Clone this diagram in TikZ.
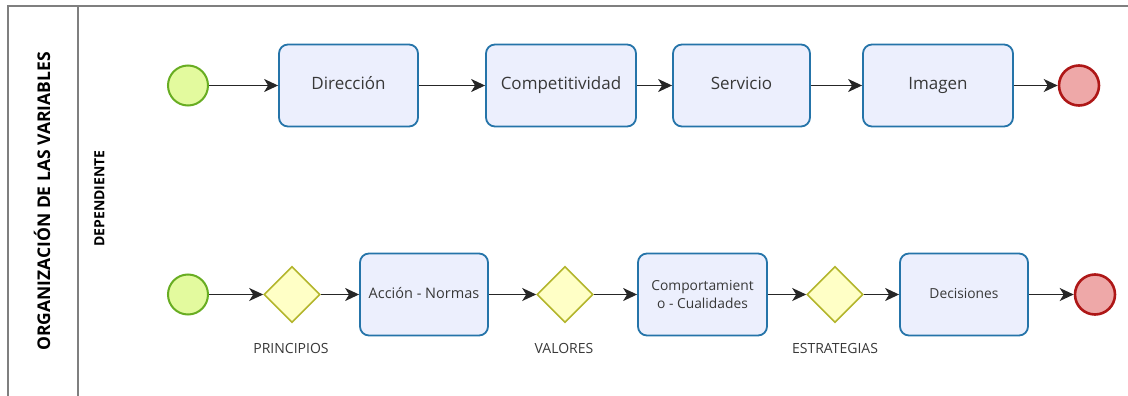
\documentclass[tikz,border=0pt]{standalone}
\usepackage{fontspec}
\setmainfont{Open Sans}
\usetikzlibrary{arrows.meta,shapes.geometric}
\definecolor{framegray}{HTML}{7F7F7F}
\definecolor{taskfill}{HTML}{ECEFFD}
\definecolor{taskline}{HTML}{2574A9}
\definecolor{startfill}{HTML}{E3FA9E}
\definecolor{startline}{HTML}{68AD22}
\definecolor{endfill}{HTML}{EEA8A8}
\definecolor{endline}{HTML}{AE1717}
\definecolor{gatefill}{HTML}{FFFFC6}
\definecolor{gateline}{HTML}{B3B52C}
\definecolor{txt}{HTML}{383838}
\tikzset{
  frameline/.style={draw=framegray, line width=1.6pt},
  task/.style={rectangle, rounded corners=9pt, draw=taskline, fill=taskfill, line width=1.8pt,
    minimum height=82pt, text=txt, inner sep=2pt, align=center},
  oneline/.style={text height=0.72em, text depth=0pt},
  startev/.style={circle, draw=startline, fill=startfill, line width=2pt, minimum size=40pt, inner sep=0pt},
  endev/.style={circle, draw=endline, fill=endfill, line width=2.6pt, minimum size=40pt, inner sep=0pt},
  gate/.style={diamond, aspect=1, draw=gateline, fill=gatefill, line width=1.6pt, minimum width=56pt, minimum height=56pt, inner sep=0pt},
  gatelabel/.style={text=txt, font=\fontsize{14}{16}\selectfont, inner sep=0pt},
  flow/.style={draw=black!85, line width=1.4pt, -{Stealth[length=14pt, width=13pt, inset=4pt]}},
  toptext/.style={font=\fontsize{17}{20}\selectfont, oneline},
}
\begin{document}
\begin{tikzpicture}[x=1pt, y=-1pt]
\useasboundingbox (0,0) rectangle (1128,396);
% frame
\coordinate (fbl) at (8,396);
\coordinate (ftl) at (8,6);
\coordinate (ftr) at (1128,6);
\coordinate (dtop) at (78,6);
\coordinate (dbot) at (78,396);
\draw[frameline] (fbl) -- (ftl) -- (ftr);
\draw[frameline] (dtop) -- (dbot);
\node[rotate=90, font=\bfseries\fontsize{17.5}{20}\selectfont, text=black] (title) at (42,201.5) {ORGANIZACIÓN DE LAS VARIABLES};
\node[rotate=90, font=\bfseries\fontsize{14}{16}\selectfont, text=black] (dep) at (99.5,198.5) {DEPENDIENTE};
% top row
\node[startev] (s1) at (188,85.5) {};
\node[task, minimum width=139pt, toptext] (t1) at (348.5,85.5) {Dirección};
\node[task, minimum width=150pt, toptext] (t2) at (561,85.5) {Competitividad};
\node[task, minimum width=137pt, toptext] (t3) at (741.5,85.5) {Servicio};
\node[task, minimum width=150pt, toptext] (t4) at (938,85.5) {Imagen};
\node[endev] (e1) at (1079,85.5) {};
\draw[flow] (s1) -- (t1);
\draw[flow] (t1) -- (t2);
\draw[flow] (t2) -- (t3);
\draw[flow] (t3) -- (t4);
\draw[flow] (t4) -- (e1);
% bottom row
\node[startev] (s2) at (188,294.5) {};
\node[gate] (g1) at (292,294.5) {};
\node[gatelabel] (l1) at (291,348) {PRINCIPIOS};
\node[task, minimum width=128pt, oneline, font=\fontsize{14.5}{17}\selectfont] (b1) at (424,294.5) {Acción - Normas};
\node[gate] (g2) at (565,294.5) {};
\node[gatelabel] (l2) at (564,348) {VALORES};
\node[task, minimum width=129pt, font=\fontsize{13.8}{18}\selectfont] (b2) at (702.5,294.5) {Comportamient\\o - Cualidades};
\node[gate] (g3) at (835,294.5) {};
\node[gatelabel] (l3) at (835,348) {ESTRATEGIAS};
\node[task, minimum width=128pt, oneline, font=\fontsize{13.8}{16}\selectfont] (b3) at (964,294.5) {Decisiones};
\node[endev] (e2) at (1095,294.5) {};
\draw[flow] (s2) -- (g1);
\draw[flow] (g1) -- (b1);
\draw[flow] (b1) -- (g2);
\draw[flow] (g2) -- (b2);
\draw[flow] (b2) -- (g3);
\draw[flow] (g3) -- (b3);
\draw[flow] (b3) -- (e2);
\end{tikzpicture}
\end{document}
